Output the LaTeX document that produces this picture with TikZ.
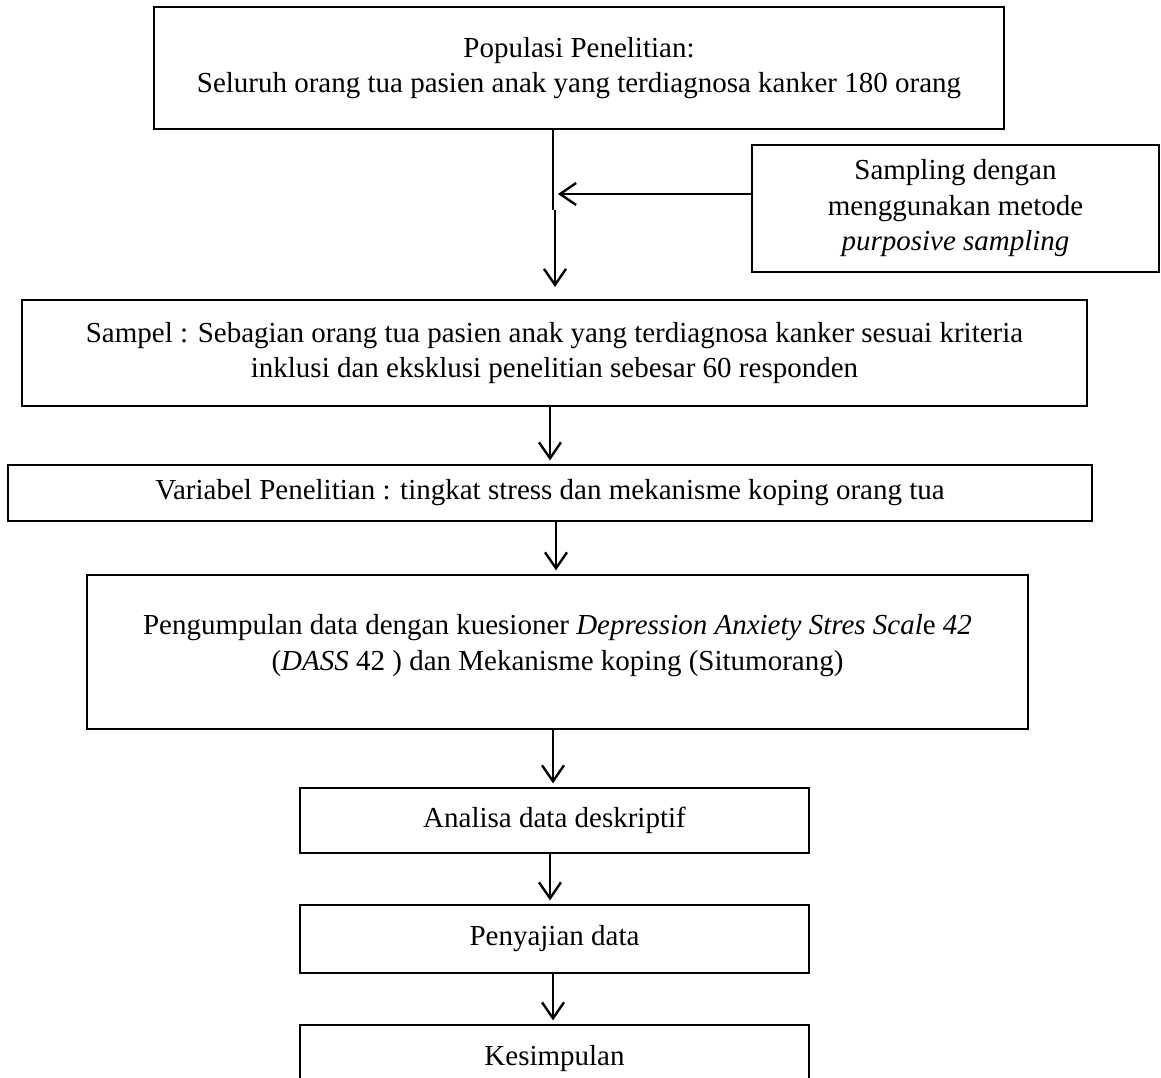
\documentclass[tikz,border=0pt]{standalone}
\usepackage{fontspec}
\setmainfont{Liberation Serif}
\usetikzlibrary{arrows.meta}
\begin{document}
\begin{tikzpicture}[x=1pt, y=-1pt, line width=1.2pt,
	box/.style = {draw, rectangle, align=center, inner sep=0pt, font=\fontsize{29}{35.5}\selectfont},
	arr/.style = {line width=2.4pt, shorten >=4pt, -{Straight Barb[length=16pt, width=22pt]}}]
	\clip (0,0) rectangle (1161,1077);
	\node[box, minimum width=850pt, minimum height=122pt] (populasi) at (579,68) {Populasi Penelitian:\\Seluruh orang tua pasien anak yang terdiagnosa kanker 180 orang};
	\node[box, minimum width=407pt, minimum height=127pt] (sampling) at (955.5,208.5) {Sampling dengan\\menggunakan metode\\\textit{purposive sampling}};
	\node[box, minimum width=1065pt, minimum height=106pt] (sampel) at (554.5,353) {Sampel : Sebagian orang tua pasien anak yang terdiagnosa kanker sesuai kriteria\\inklusi dan eksklusi penelitian sebesar 60 responden};
	\node[box, minimum width=1084pt, minimum height=56pt] (variabel) at (550,493) {Variabel Penelitian : tingkat stress dan mekanisme koping orang tua};
	\node[box, minimum width=941pt, minimum height=154pt] (kumpul) at (557.5,652) {Pengumpulan data dengan kuesioner \textit{Depression Anxiety Stres Scal}e \textit{42}\\(\textit{DASS} 42 ) dan Mekanisme koping (Situmorang)\\[-16pt]};
	\node[box, minimum width=509pt, minimum height=65pt] (analisa) at (554.5,820.5) {Analisa data deskriptif};
	\node[box, minimum width=509pt, minimum height=68pt] (sajian) at (554.5,939) {Penyajian data};
	\node[box, minimum width=509pt, minimum height=67pt] (simpul) at (554.5,1058.5) {Kesimpulan};
	% alur dari populasi ke sampel
	\coordinate (jog) at (553,210);
	\coordinate (tipA) at (555,291);
	\coordinate (tipB) at (554,194);
	\draw[line width=2.4pt] (populasi.south -| jog) -- (jog);
	\draw[arr] ([xshift=2pt]jog) -- (tipA);
	\draw[arr] (sampling.west |- tipB) -- (tipB);
	% alur ke bawah
	\draw[arr] ([xshift=-4.5pt]sampel.south) -- ([xshift=-4.5pt]sampel.south |- variabel.north);
	\draw[arr] ([xshift=6pt]variabel.south) -- ([xshift=6pt]variabel.south |- kumpul.north);
	\draw[arr] ([xshift=-4.5pt]kumpul.south) -- ([xshift=-4.5pt]kumpul.south |- analisa.north);
	\draw[arr] ([xshift=-4.5pt]analisa.south) -- ([xshift=-4.5pt]analisa.south |- sajian.north);
	\draw[arr] ([xshift=-1.5pt]sajian.south) -- ([xshift=-1.5pt]sajian.south |- simpul.north);
\end{tikzpicture}
\end{document}
